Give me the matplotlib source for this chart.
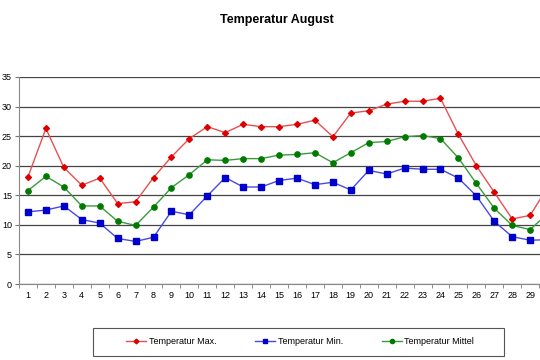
import numpy as np
import matplotlib
matplotlib.use("Agg")
import matplotlib.pyplot as plt
from matplotlib.ticker import FixedLocator
from matplotlib.patches import Rectangle

plt.rcParams['font.family'] = ['Liberation Sans', 'DejaVu Sans']

days = list(range(1, 32))
t_max = [18.1, 26.3, 19.7, 16.7, 17.9, 13.6, 13.9, 18.0, 21.5, 24.6,
         26.6, 25.6, 27.0, 26.6, 26.6, 27.0, 27.7, 24.9, 28.9, 29.3,
         30.4, 30.9, 30.9, 31.4, 25.3, 20.0, 15.5, 11.0, 11.6, 16.5, 18.0]
t_min = [12.2, 12.5, 13.2, 10.9, 10.3, 7.7, 7.2, 7.9, 12.3, 11.7,
         14.9, 18.0, 16.4, 16.4, 17.5, 17.9, 16.8, 17.2, 15.9, 19.2,
         18.6, 19.6, 19.4, 19.4, 17.9, 14.9, 10.6, 8.0, 7.4, 7.5, 8.5]
t_mid = [15.8, 18.2, 16.4, 13.2, 13.2, 10.6, 9.9, 13.0, 16.3, 18.5,
         21.0, 20.9, 21.2, 21.2, 21.8, 21.9, 22.2, 20.5, 22.2, 23.9,
         24.1, 24.9, 25.1, 24.6, 21.3, 17.0, 12.8, 9.9, 9.2, 12.0, 13.0]

fig = plt.figure(figsize=(5.4, 3.6), dpi=100)
# plot area runs past the right edge, as in the reference
ax = fig.add_axes([19/540, 76/360, 556/540, 207/360])

ax.plot(days, t_max, color='#e85050', lw=1, marker='D', ms=3,
        mfc='#dd0000', mec='#dd0000', label='Temperatur Max.')
ax.plot(days, t_min, color='#4a4ae0', lw=1, marker='s', ms=4,
        mfc='#0000cc', mec='#0000cc', label='Temperatur Min.')
ax.plot(days, t_mid, color='#3c9a3c', lw=1, marker='o', ms=3.8,
        mfc='#007a00', mec='#007a00', label='Temperatur Mittel')

ax.set_xlim(0.5, 31.5)
ax.set_ylim(0, 35)
ax.set_yticks(range(0, 36, 5))
ax.set_xticks(days)
ax.xaxis.set_minor_locator(FixedLocator(np.arange(0.5, 32, 1)))
ax.tick_params(axis='x', which='major', length=0, labelsize=6.5, pad=5)
ax.tick_params(axis='x', which='minor', length=3, color='#777777')
ax.tick_params(axis='y', length=3, labelsize=6.5, color='#777777', pad=2)
ax.yaxis.grid(True, color='#444444', lw=0.9)
ax.set_axisbelow(True)
for s in ['top', 'right']:
    ax.spines[s].set_visible(False)
for s in ['left', 'bottom']:
    ax.spines[s].set_color('#888888')
# days 30 and 31 lie outside the visible canvas
for lab in ax.get_xticklabels()[29:]:
    lab.set_visible(False)

fig.text(277/540, 1 - 20/360, 'Temperatur August', ha='center', va='center',
         fontsize=9, fontweight='bold')

fig.patches.append(Rectangle((93/540, 4/360), 411/540, 28/360,
                             transform=fig.transFigure, fill=False,
                             edgecolor='#555555', lw=0.8))
leg = fig.legend(loc='center', bbox_to_anchor=(300/540, 18/360),
                 ncol=3, fontsize=6.5, frameon=False,
                 handlelength=2.2, handletextpad=0.3, columnspacing=4.3,
                 markerscale=0.8)

fig.savefig('out.png', dpi=100)
